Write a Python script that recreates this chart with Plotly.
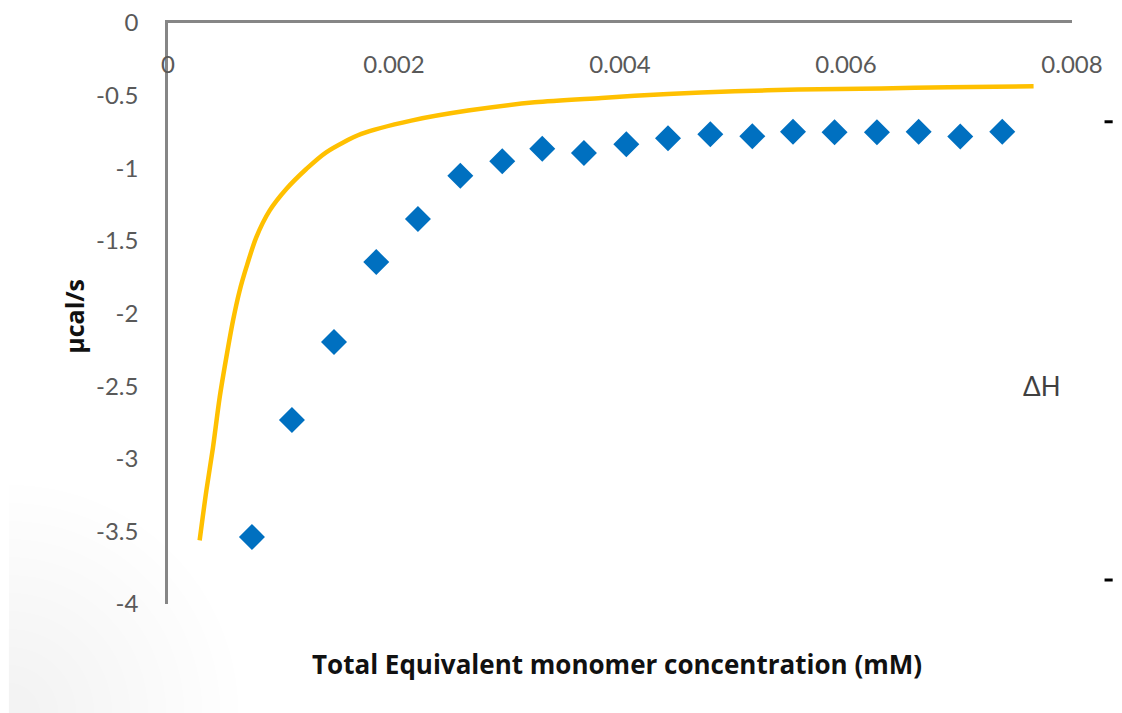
import plotly.graph_objects as go

# Experimental data (blue diamonds)
conc_data = [0.000743, 0.001097, 0.001469, 0.001843, 0.002212, 0.002587, 0.002958,
             0.003312, 0.003681, 0.004056, 0.004425, 0.004799, 0.005171, 0.005531,
             0.005899, 0.006274, 0.006643, 0.007011, 0.007383]
heat_data = [-3.539, -2.733, -2.197, -1.646, -1.349, -1.051, -0.952,
             -0.865, -0.895, -0.835, -0.794, -0.766, -0.780, -0.748,
             -0.753, -0.753, -0.748, -0.782, -0.748]

# Fitted curve (yellow line)
conc_fit = [0.000280, 0.000339, 0.000398, 0.000457, 0.000516, 0.000575, 0.000634,
            0.000693, 0.000781, 0.000899, 0.001047, 0.001224, 0.001400, 0.001711,
            0.002153, 0.002655, 0.003244, 0.003835, 0.004425, 0.005014, 0.005575,
            0.006312, 0.006903, 0.00766]
heat_fit = [-3.562, -3.222, -2.923, -2.579, -2.303, -2.050, -1.843,
            -1.683, -1.476, -1.292, -1.143, -1.005, -0.890, -0.764,
            -0.672, -0.603, -0.546, -0.516, -0.488, -0.470, -0.458,
            -0.451, -0.442, -0.436]

x_ticks = [0, 0.002, 0.004, 0.006, 0.008]
x_tick_text = ["0", "0.002", "0.004", "0.006", "0.008"]
y_ticks = [0, -0.5, -1, -1.5, -2, -2.5, -3, -3.5, -4]
y_tick_text = ["0", "-0.5", "-1", "-1.5", "-2", "-2.5", "-3", "-3.5", "-4"]

fig = go.Figure()
fig.add_trace(go.Scatter(x=conc_fit, y=heat_fit, mode="lines",
                         line=dict(color="#FFC000", width=4.5, shape="spline", smoothing=0.8),
                         showlegend=False))
fig.add_trace(go.Scatter(x=conc_data, y=heat_data, mode="markers",
                         marker=dict(symbol="diamond", size=20, color="#0070C0"),
                         showlegend=False))

tick_font = dict(family="Lato, Open Sans, sans-serif", size=24, color="#595959")
title_font = "Open Sans, sans-serif"

# soft grey shading in the bottom-left corner of the picture (decorative)
shade = []
for i in range(12):
    r = 230 - i * 18
    shade.append(dict(type="circle", xref="paper", yref="paper", layer="below",
                      xsizemode="pixel", ysizemode="pixel",
                      xanchor=-0.176, yanchor=-0.19,
                      x0=-r, x1=r, y0=-r, y1=r,
                      fillcolor="rgba(0,0,0,0.005)", line=dict(width=0)))
shade.append(dict(type="rect", xref="paper", yref="paper", layer="below",
                  xsizemode="pixel", xanchor=-0.176, x0=-20, x1=0, y0=-0.2, y1=0.6,
                  fillcolor="white", line=dict(width=0)))

fig.update_layout(
    width=1122, height=713,
    margin=dict(l=160, r=58, t=15, b=117),
    paper_bgcolor="white", plot_bgcolor="rgba(0,0,0,0)",
    xaxis=dict(range=[0, 0.008], side="top", tickvals=x_ticks, ticktext=x_tick_text,
               ticklabelposition="inside", ticklabeloverflow="allow", ticklabelstandoff=35,
               showline=True, linecolor="#868686", linewidth=2.5, ticks="",
               showgrid=False, zeroline=False, tickfont=tick_font, automargin=False),
    yaxis=dict(range=[-4, 0], tickvals=y_ticks, ticktext=y_tick_text,
               showline=True, linecolor="#868686", linewidth=2.5, ticks="",
               ticklabelstandoff=22, ticklabeloverflow="allow",
               showgrid=False, zeroline=False, tickfont=tick_font, automargin=False),
    annotations=[
        dict(text="<b>µcal/s</b>", xref="paper", yref="paper", x=-0.104, y=0.496,
             textangle=-90, showarrow=False, xanchor="center", yanchor="middle",
             font=dict(family=title_font, size=25, color="#111111")),
        dict(text="<b>Total Equivalent monomer concentration (mM)</b>", xref="paper", yref="paper",
             x=0.497, y=-0.103, showarrow=False, xanchor="center", yanchor="middle",
             font=dict(family=title_font, size=26, color="#111111")),
        dict(text="ΔH", xref="paper", yref="paper", x=0.966, y=0.3755, showarrow=False,
             xanchor="center", yanchor="middle",
             font=dict(family="Lato, Open Sans, sans-serif", size=26, color="#404040")),
    ],
    shapes=shade + [
        dict(type="line", xref="paper", yref="paper", x0=1.036, x1=1.045, y0=0.830, y1=0.830,
             line=dict(color="black", width=3)),
        dict(type="line", xref="paper", yref="paper", x0=1.036, x1=1.045, y0=0.0413, y1=0.0413,
             line=dict(color="black", width=3)),
    ],
)

fig.write_html("out.html")
